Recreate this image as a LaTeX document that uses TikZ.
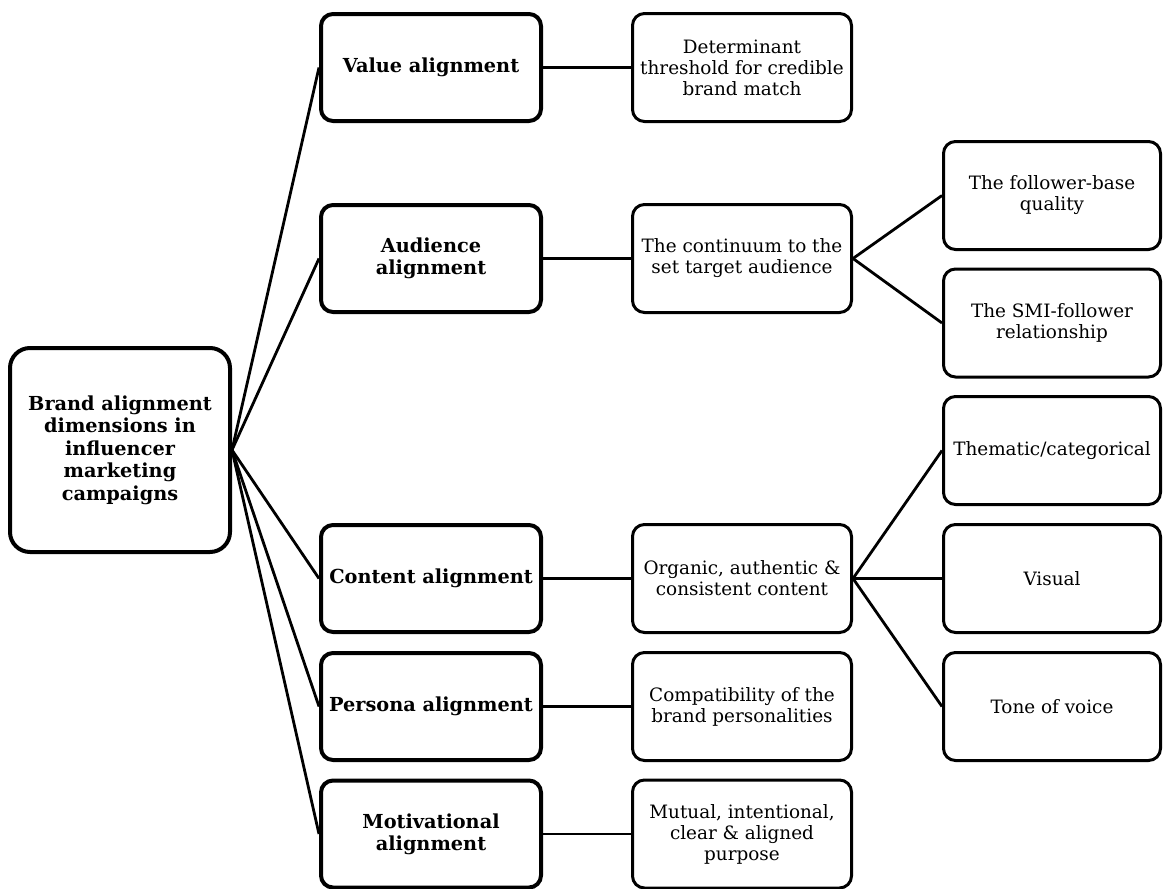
\documentclass[tikz,border=0pt]{standalone}
\usepackage{fontspec}
\setmainfont{DejaVu Serif}
\begin{document}
\begin{tikzpicture}[x=1pt,y=-1pt,
  rootbox/.style={draw, line width=4pt, rounded corners=20pt,
    minimum width=220pt, minimum height=204pt, inner sep=0pt, align=center,
    font=\bfseries\fontsize{19.3}{22.5}\selectfont},
  dimbox/.style={draw, line width=4pt, rounded corners=12pt,
    minimum width=220pt, minimum height=107pt, inner sep=0pt, align=center,
    font=\bfseries\fontsize{19.3}{22}\selectfont},
  descbox/.style={draw, line width=3pt, rounded corners=12pt,
    minimum width=219pt, minimum height=108pt, inner sep=0pt, align=center,
    font=\fontsize{18.4}{21}\selectfont},
  subbox/.style={draw, line width=3pt, rounded corners=12pt,
    minimum width=217pt, minimum height=108pt, inner sep=0pt, align=center,
    font=\fontsize{18.4}{21}\selectfont},
  link/.style={draw, line width=2.8pt}
]
\useasboundingbox (0,0) rectangle (1163,889);

% root
\node[rootbox] (root) at (120,450) {Brand alignment\\dimensions in\\influencer\\marketing\\campaigns};

% alignment dimensions
\node[dimbox] (value)  at (431,67.5)  {Value alignment};
\node[dimbox] (aud)    at (431,258.5) {Audience\\alignment};
\node[dimbox] (cont)   at (431,578.5) {Content alignment};
\node[dimbox] (pers)   at (431,706.5) {Persona alignment};
\node[dimbox] (motiv)  at (431,834)   {Motivational\\alignment};

% descriptions
\node[descbox] (dvalue) at (742,67.5)  {Determinant\\threshold for credible\\brand match};
\node[descbox] (daud)   at (742,258.5) {The continuum to the\\set target audience};
\node[descbox] (dcont)  at (742,578.5) {Organic, authentic \&\\consistent content};
\node[descbox] (dpers)  at (742,706.5) {Compatibility of the\\brand personalities};
\node[descbox] (dmotiv) at (742,834)   {Mutual, intentional,\\clear \& aligned\\purpose};

% sub-aspects
\node[subbox] (base)  at (1052,195.5) {The follower-base\\quality};
\node[subbox] (rel)   at (1052,323)   {The SMI-follower\\relationship};
\node[subbox] (theme) at (1052,450.5) {Thematic/categorical};
\node[subbox] (vis)   at (1052,578.5) {Visual};
\node[subbox] (tone)  at (1052,706.5) {Tone of voice};

% connectors
\foreach \d in {value,aud,cont,pers,motiv}
  \draw[link] (root.east) -- (\d.west);
\draw[link] (value.east) -- (dvalue.west);
\draw[link] (aud.east) -- (daud.west);
\draw[link] (cont.east) -- (dcont.west);
\draw[link] (pers.east) -- (dpers.west);
\draw[link] (motiv.east) -- (dmotiv.west);
\draw[link] (daud.east) -- (base.west);
\draw[link] (daud.east) -- (rel.west);
\draw[link] (dcont.east) -- (theme.west);
\draw[link] (dcont.east) -- (vis.west);
\draw[link] (dcont.east) -- (tone.west);
\end{tikzpicture}
\end{document}
